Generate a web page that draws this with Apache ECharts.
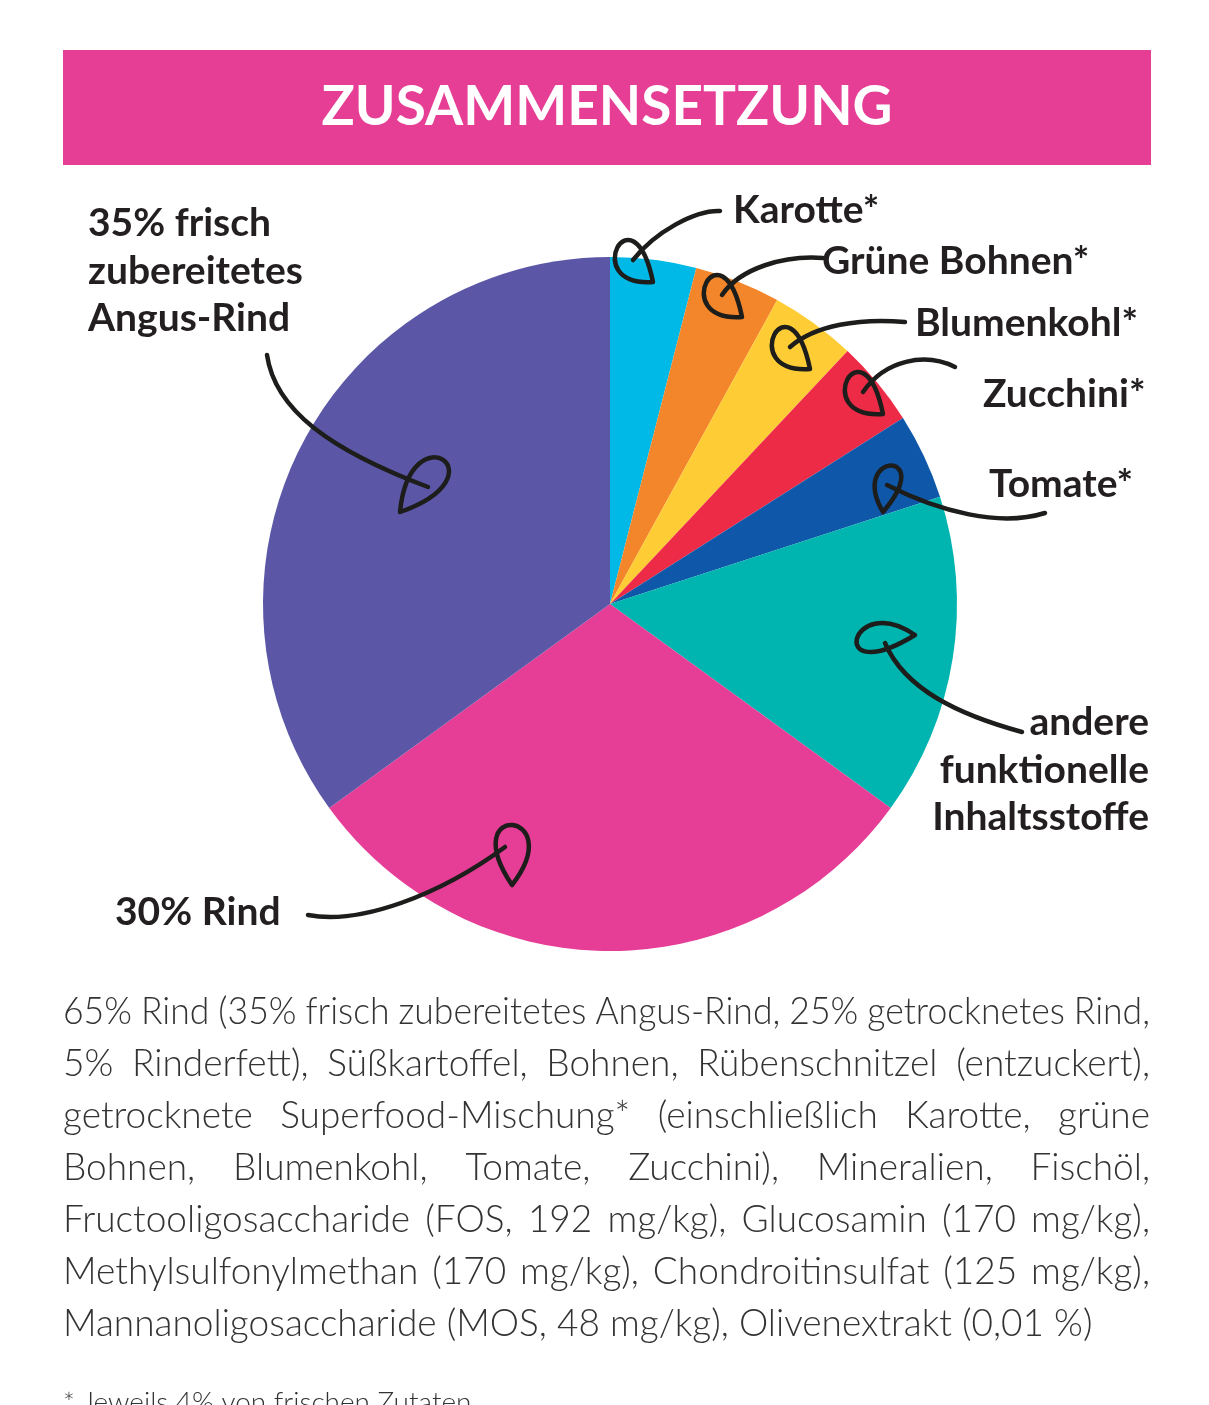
<!DOCTYPE html>
<html><head><meta charset="utf-8">
<script src="https://cdn.jsdelivr.net/npm/echarts/dist/echarts.min.js"></script>
<style>html,body{margin:0;padding:0;background:#fff}#chart{width:1209px;height:1405px}</style>
</head><body><div id="chart"></div>
<script>
// ---- data ----
const categories = ['Karotte', 'Grüne Bohnen', 'Blumenkohl', 'Zucchini', 'Tomate',
  'andere funktionelle Inhaltsstoffe', 'Rind', 'frisch zubereitetes Angus-Rind'];
const shares = [4, 4, 4, 4, 4, 15, 30, 35];
const labelTexts = ['Karotte*', 'Grüne Bohnen*', 'Blumenkohl*', 'Zucchini*', 'Tomate*',
  'andere\nfunktionelle\nInhaltsstoffe', '30% Rind', '35% frisch\nzubereitetes\nAngus-Rind'];
const sliceColors = ['#00B9E6', '#F3862A', '#FECD36', '#EE2B47', '#0F57A8', '#00B4AF', '#E63D96', '#5B57A6'];
const titleText = 'ZUSAMMENSETZUNG';
const paragraphLines = [
  '65% Rind (35% frisch zubereitetes Angus-Rind, 25% getrocknetes Rind,',
  '5% Rinderfett), Süßkartoffel, Bohnen, Rübenschnitzel (entzuckert),',
  'getrocknete Superfood-Mischung* (einschließlich Karotte, grüne',
  'Bohnen, Blumenkohl, Tomate, Zucchini), Mineralien, Fischöl,',
  'Fructooligosaccharide (FOS, 192 mg/kg), Glucosamin (170 mg/kg),',
  'Methylsulfonylmethan (170 mg/kg), Chondroitinsulfat (125 mg/kg),',
  'Mannanoligosaccharide (MOS, 48 mg/kg), Olivenextrakt (0,01 %)'
];
const footnote = '* Jeweils 4% von frischen Zutaten';

// ---- layout (annotation positions) ----
const labelPos = [
  { x: 733, y: 210, align: 'left', va: 'middle' },
  { x: 822, y: 261, align: 'left', va: 'middle' },
  { x: 915, y: 323, align: 'left', va: 'middle' },
  { x: 983, y: 394, align: 'left', va: 'middle' },
  { x: 989, y: 484, align: 'left', va: 'middle' },
  { x: 1149, y: 699, align: 'right', va: 'top' },
  { x: 115, y: 912, align: 'left', va: 'middle' },
  { x: 88, y: 200, align: 'left', va: 'top' }
];
const arrowLines = [
  [720, 211, 695, 210, 655, 232, 633, 260],
  [823, 258, 785, 255, 740, 268, 722, 295],
  [905, 322, 860, 318, 815, 325, 790, 347],
  [955, 367, 925, 352, 885, 360, 863, 392],
  [1045, 513, 1000, 527, 940, 512, 887, 485],
  [1022, 732, 960, 715, 905, 690, 885, 643],
  [308, 915, 360, 925, 440, 895, 505, 847],
  [267, 355, 275, 410, 330, 450, 428, 487]
];
const arrowHeads = [
  [653, 282, 633, 185, 578, 287],
  [742, 317, 722, 220, 667, 322],
  [810, 369, 790, 272, 735, 374],
  [883, 414, 863, 317, 808, 419],
  [883, 512, 848, 452, 938, 448],
  [915, 635, 850, 590, 825, 690],
  [512, 885, 455, 800, 570, 810],
  [400, 512, 410, 410, 505, 475]
];

const ink = '#1d1d1b';
const strokeStyle = { stroke: ink, lineWidth: 4.5, fill: 'none', lineCap: 'round', lineJoin: 'round' };
const elements = [];
elements.push({ type: 'rect', shape: { x: 63, y: 50, width: 1088, height: 115 }, style: { fill: '#E63E95' } });
elements.push({ type: 'text', x: 607, y: 107, style: { text: titleText, fill: '#ffffff', font: 'bold 55px Lato', textAlign: 'center', textVerticalAlign: 'middle' } });

arrowLines.forEach(a => {
  elements.push({ type: 'bezierCurve', z: 50, shape: { x1: a[0], y1: a[1], cpx1: a[2], cpy1: a[3], cpx2: a[4], cpy2: a[5], x2: a[6], y2: a[7] }, style: strokeStyle });
});
arrowHeads.forEach(h => {
  elements.push({ type: 'bezierCurve', z: 50, shape: { x1: h[0], y1: h[1], cpx1: h[2], cpy1: h[3], cpx2: h[4], cpy2: h[5], x2: h[0], y2: h[1] }, style: strokeStyle });
});

// justified paragraph
const paraFont = '300 37px Lato';
const ctx = document.createElement('canvas').getContext('2d');
ctx.font = paraFont;
const pLeft = 63, pRight = 1150, minGap = 9;
paragraphLines.forEach((line, i) => {
  const y = 1012 + i * 52;
  if (i === paragraphLines.length - 1) {
    elements.push({ type: 'text', x: pLeft, y: y, style: { text: line, font: paraFont, fill: '#333333', textAlign: 'left', textVerticalAlign: 'middle' } });
    return;
  }
  const words = line.split(' ');
  const widths = words.map(w => ctx.measureText(w).width);
  const total = widths.reduce((s, v) => s + v, 0);
  let gap = (pRight - pLeft - total) / (words.length - 1);
  let sx = 1;
  if (gap < minGap) {
    gap = minGap;
    sx = (pRight - pLeft - minGap * (words.length - 1)) / total;
  }
  let x = pLeft;
  words.forEach((w, j) => {
    elements.push({ type: 'text', x: x, y: y, scaleX: sx, style: { text: w, font: paraFont, fill: '#333333', textAlign: 'left', textVerticalAlign: 'middle' } });
    x += widths[j] * sx + gap;
  });
});
elements.push({ type: 'text', x: 63, y: 1403, style: { text: footnote, font: '300 28px Lato', fill: '#333333', textAlign: 'left', textVerticalAlign: 'middle' } });

const chart = echarts.init(document.getElementById('chart'), null, { renderer: 'canvas' });
chart.setOption({
  animation: false,
  backgroundColor: '#ffffff',
  series: [{
    type: 'pie',
    center: [610, 604],
    radius: [0, 347],
    startAngle: 90,
    clockwise: true,
    avoidLabelOverlap: false,
    silent: true,
    data: categories.map((c, i) => ({ name: c, value: shares[i], itemStyle: { color: sliceColors[i] } })),
    label: {
      show: true, position: 'outside', overflow: 'none',
      formatter: p => labelTexts[p.dataIndex],
      fontFamily: 'Lato', fontWeight: 'bold', fontSize: 39, color: '#231f20', lineHeight: 47.5
    },
    labelLine: { show: false },
    labelLayout: p => {
      const q = labelPos[p.dataIndex];
      return { x: q.x, y: q.y, align: q.align, verticalAlign: q.va };
    },
    emphasis: { disabled: true }
  }],
  graphic: { elements: elements }
});
</script>
</body></html>
